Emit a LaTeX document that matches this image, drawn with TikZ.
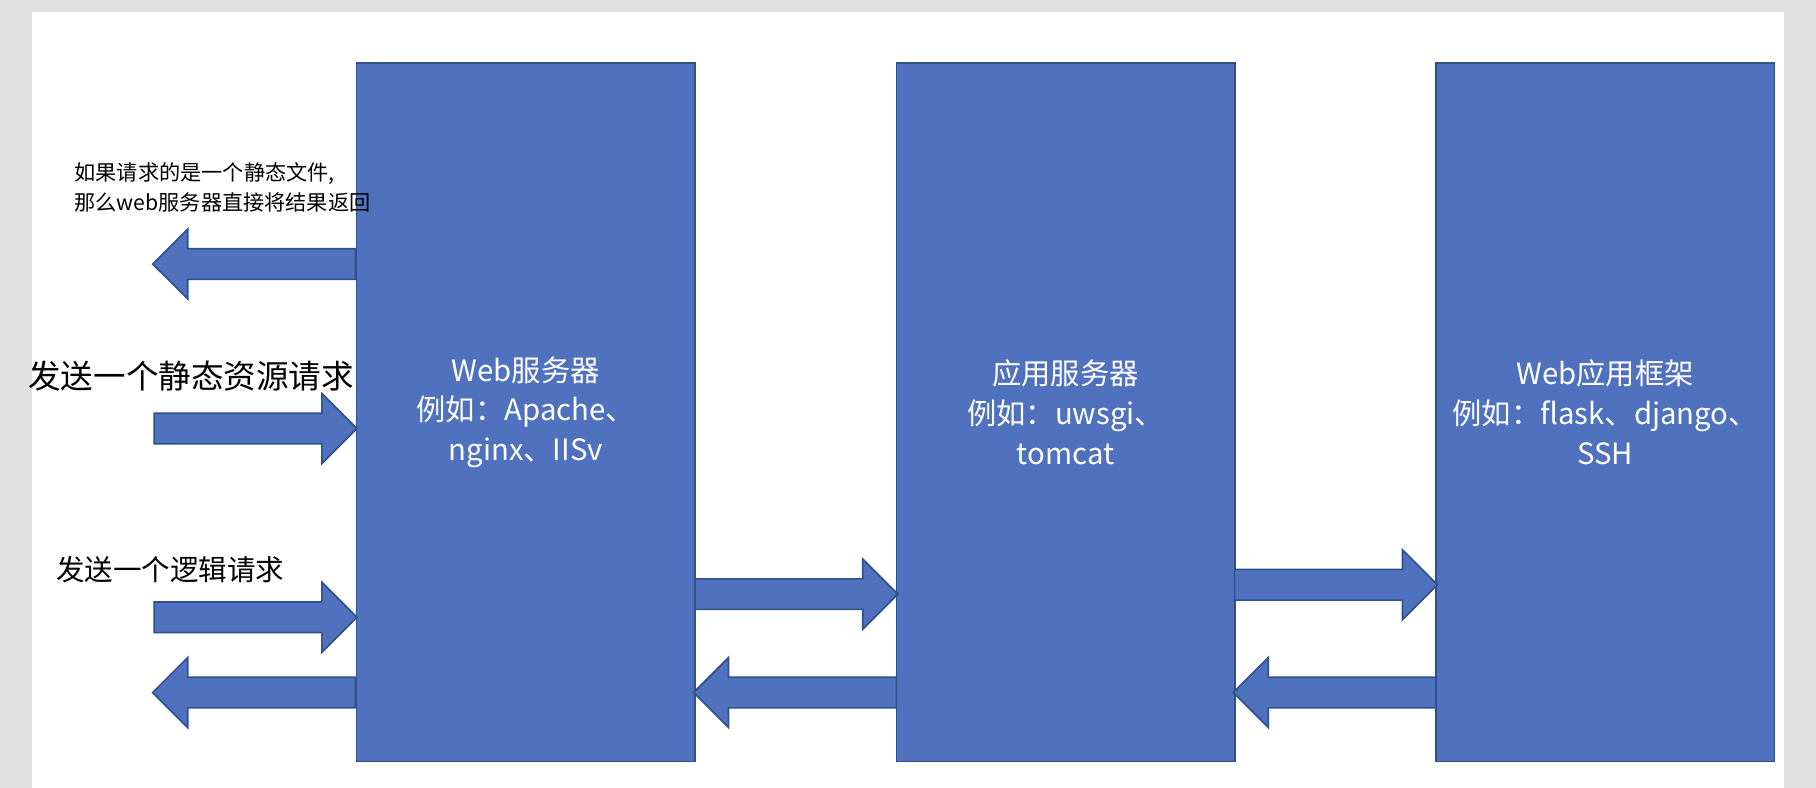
\documentclass[tikz,border=0pt]{standalone}
\usepackage{fontspec}
\setmainfont{Noto Sans CJK SC}
\usetikzlibrary{shapes.arrows,positioning}
\definecolor{boxblue}{HTML}{4F71BE}
\definecolor{boxline}{HTML}{2F528F}
\tikzset{
  server/.style={draw=boxline,fill=boxblue,text=white,minimum width=2.92cm,minimum height=6.03cm,align=center,font=\fontsize{7.2}{9.8}\selectfont},
  blockarrow/.style={single arrow,draw=boxline,fill=boxblue,inner xsep=0pt,inner ysep=0.125cm,single arrow head extend=0.17cm,single arrow head indent=0pt,minimum height=#1},
  blockarrow/.default=1.75cm
}
\begin{document}
\begin{tikzpicture}[x=0.01cm,y=-0.01cm]
\useasboundingbox (0,0) rectangle (1568,680);
%frame
\fill[black!12] (0,0) rectangle (1568,10);
\fill[black!12] (0,10) rectangle (28,680);
\fill[black!12] (1540,10) rectangle (1568,680);
%servers
\node[server] (web) at (454,356) {Web服务器\\例如：Apache、\\nginx、IISv};
\node[server] (app) at (920,356) {应用服务器\\例如：uwsgi、\\tomcat};
\node[server] (frame) at (1386,356) {Web应用框架\\例如：flask、django、\\SSH};
%arrows
\node[blockarrow,shape border rotate=180] (back1) at (226,228) {};
\node[blockarrow] (static) at (214,370) {};
\node[blockarrow] (logic) at (214,533) {};
\node[blockarrow,shape border rotate=180] (back2) at (226,598) {};
\node[blockarrow] (wa) at (681,513) {};
\node[blockarrow,shape border rotate=180] (aw) at (693,598) {};
\node[blockarrow] (af) at (1147,505) {};
\node[blockarrow,shape border rotate=180] (fa) at (1159,598) {};
%labels
\node[align=left,font=\fontsize{5.2}{7.4}\selectfont,anchor=south west] (note) at (52,196) {如果请求的是一个静态文件,\\那么web服务器直接将结果返回};
\node[font=\fontsize{8}{10}\selectfont,anchor=west] (sreq) at (12,325) {发送一个静态资源请求};
\node[font=\fontsize{7}{9}\selectfont,anchor=west] (lreq) at (36,492) {发送一个逻辑请求};
\end{tikzpicture}
\end{document}
